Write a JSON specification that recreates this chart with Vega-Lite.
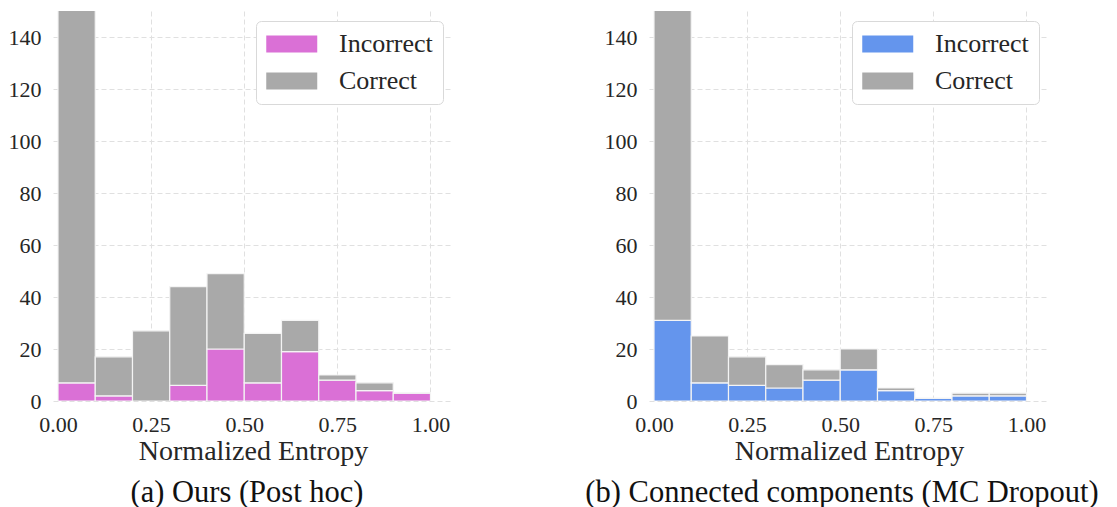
{
  "$schema": "https://vega.github.io/schema/vega-lite/v6.json",
  "background": "white",
  "padding": {"left": 8, "top": 11, "right": 2, "bottom": 2},
  "bounds": "flush",
  "spacing": 196,
  "datasets": {
    "a": [
      {"bin_start": 0.0, "bin_end": 0.1, "cls": "Incorrect", "count": 7},
      {"bin_start": 0.0, "bin_end": 0.1, "cls": "Correct", "count": 200},
      {"bin_start": 0.1, "bin_end": 0.2, "cls": "Incorrect", "count": 2},
      {"bin_start": 0.1, "bin_end": 0.2, "cls": "Correct", "count": 15},
      {"bin_start": 0.2, "bin_end": 0.3, "cls": "Incorrect", "count": 0},
      {"bin_start": 0.2, "bin_end": 0.3, "cls": "Correct", "count": 27},
      {"bin_start": 0.3, "bin_end": 0.4, "cls": "Incorrect", "count": 6},
      {"bin_start": 0.3, "bin_end": 0.4, "cls": "Correct", "count": 38},
      {"bin_start": 0.4, "bin_end": 0.5, "cls": "Incorrect", "count": 20},
      {"bin_start": 0.4, "bin_end": 0.5, "cls": "Correct", "count": 29},
      {"bin_start": 0.5, "bin_end": 0.6, "cls": "Incorrect", "count": 7},
      {"bin_start": 0.5, "bin_end": 0.6, "cls": "Correct", "count": 19},
      {"bin_start": 0.6, "bin_end": 0.7, "cls": "Incorrect", "count": 19},
      {"bin_start": 0.6, "bin_end": 0.7, "cls": "Correct", "count": 12},
      {"bin_start": 0.7, "bin_end": 0.8, "cls": "Incorrect", "count": 8},
      {"bin_start": 0.7, "bin_end": 0.8, "cls": "Correct", "count": 2},
      {"bin_start": 0.8, "bin_end": 0.9, "cls": "Incorrect", "count": 4},
      {"bin_start": 0.8, "bin_end": 0.9, "cls": "Correct", "count": 3},
      {"bin_start": 0.9, "bin_end": 1.0, "cls": "Incorrect", "count": 3},
      {"bin_start": 0.9, "bin_end": 1.0, "cls": "Correct", "count": 0}
    ],
    "b": [
      {"bin_start": 0.0, "bin_end": 0.1, "cls": "Incorrect", "count": 31},
      {"bin_start": 0.0, "bin_end": 0.1, "cls": "Correct", "count": 200},
      {"bin_start": 0.1, "bin_end": 0.2, "cls": "Incorrect", "count": 7},
      {"bin_start": 0.1, "bin_end": 0.2, "cls": "Correct", "count": 18},
      {"bin_start": 0.2, "bin_end": 0.3, "cls": "Incorrect", "count": 6},
      {"bin_start": 0.2, "bin_end": 0.3, "cls": "Correct", "count": 11},
      {"bin_start": 0.3, "bin_end": 0.4, "cls": "Incorrect", "count": 5},
      {"bin_start": 0.3, "bin_end": 0.4, "cls": "Correct", "count": 9},
      {"bin_start": 0.4, "bin_end": 0.5, "cls": "Incorrect", "count": 8},
      {"bin_start": 0.4, "bin_end": 0.5, "cls": "Correct", "count": 4},
      {"bin_start": 0.5, "bin_end": 0.6, "cls": "Incorrect", "count": 12},
      {"bin_start": 0.5, "bin_end": 0.6, "cls": "Correct", "count": 8},
      {"bin_start": 0.6, "bin_end": 0.7, "cls": "Incorrect", "count": 4},
      {"bin_start": 0.6, "bin_end": 0.7, "cls": "Correct", "count": 1},
      {"bin_start": 0.7, "bin_end": 0.8, "cls": "Incorrect", "count": 1},
      {"bin_start": 0.7, "bin_end": 0.8, "cls": "Correct", "count": 0},
      {"bin_start": 0.8, "bin_end": 0.9, "cls": "Incorrect", "count": 2},
      {"bin_start": 0.8, "bin_end": 0.9, "cls": "Correct", "count": 1},
      {"bin_start": 0.9, "bin_end": 1.0, "cls": "Incorrect", "count": 2},
      {"bin_start": 0.9, "bin_end": 1.0, "cls": "Correct", "count": 1}
    ]
  },
  "config": {
    "font": "Liberation Serif",
    "view": {"stroke": null},
    "axis": {
      "domain": false,
      "ticks": false,
      "grid": true,
      "gridColor": "#e0e0e0",
      "gridDash": [5, 3],
      "gridWidth": 1,
      "labelFont": "Liberation Serif",
      "labelFontSize": 22,
      "labelColor": "#262626",
      "titleFont": "Liberation Serif",
      "titleFontSize": 28,
      "titleFontWeight": "normal",
      "titleColor": "#262626"
    },
    "axisX": {"labelPadding": 13, "titlePadding": 2},
    "axisY": {"labelPadding": 12},
    "legend": {
      "orient": "top-right",
      "offset": 10,
      "fillColor": "white",
      "strokeColor": "#d9d9d9",
      "cornerRadius": 5,
      "padding": 10,
      "labelFont": "Liberation Serif",
      "labelFontSize": 26,
      "labelColor": "#262626",
      "labelOffset": 47,
      "rowPadding": 11,
      "symbolType": "M-1,-0.66H3V0.66H-1Z",
      "symbolSize": 650,
      "symbolStrokeWidth": 0,
      "symbolOpacity": 1
    },
    "title": {
      "font": "Liberation Serif",
      "fontSize": 30.5,
      "fontWeight": "normal",
      "color": "#111111",
      "orient": "bottom",
      "anchor": "middle",
      "offset": 13
    }
  },
  "resolve": {"scale": {"color": "independent"}, "legend": {"color": "independent"}},
  "hconcat": [
    {
      "width": 400,
      "height": 390,
      "data": {"name": "a"},
      "title": {"text": "(a) Ours (Post hoc)", "dx": -6},
      "mark": {"type": "bar", "orient": "vertical", "clip": true, "stroke": "#f4f4f4", "strokeWidth": 1.2},
      "encoding": {
        "x": {"field": "bin_start", "type": "quantitative", "scale": {"domain": [0, 1.047], "nice": false, "zero": false}, "axis": {"values": [0, 0.25, 0.5, 0.75, 1], "format": ".2f", "title": "Normalized Entropy"}},
        "x2": {"field": "bin_end"},
        "y": {"field": "count", "type": "quantitative", "stack": "zero", "scale": {"domain": [0, 150], "nice": false}, "axis": {"values": [0, 20, 40, 60, 80, 100, 120, 140], "title": null}},
        "color": {"field": "cls", "type": "nominal", "scale": {"domain": ["Incorrect", "Correct"], "range": ["#DA70D6", "#A9A9A9"]}, "legend": {"title": null}},
        "order": {"field": "cls", "sort": "descending"}
      }
    },
    {
      "width": 400,
      "height": 390,
      "data": {"name": "b"},
      "title": {"text": "(b) Connected components (MC Dropout)", "dx": -7},
      "mark": {"type": "bar", "orient": "vertical", "clip": true, "stroke": "#f4f4f4", "strokeWidth": 1.2},
      "encoding": {
        "x": {"field": "bin_start", "type": "quantitative", "scale": {"domain": [0, 1.047], "nice": false, "zero": false}, "axis": {"values": [0, 0.25, 0.5, 0.75, 1], "format": ".2f", "title": "Normalized Entropy"}},
        "x2": {"field": "bin_end"},
        "y": {"field": "count", "type": "quantitative", "stack": "zero", "scale": {"domain": [0, 150], "nice": false}, "axis": {"values": [0, 20, 40, 60, 80, 100, 120, 140], "title": null}},
        "color": {"field": "cls", "type": "nominal", "scale": {"domain": ["Incorrect", "Correct"], "range": ["#6495ED", "#A9A9A9"]}, "legend": {"title": null}},
        "order": {"field": "cls", "sort": "descending"}
      }
    }
  ]
}
